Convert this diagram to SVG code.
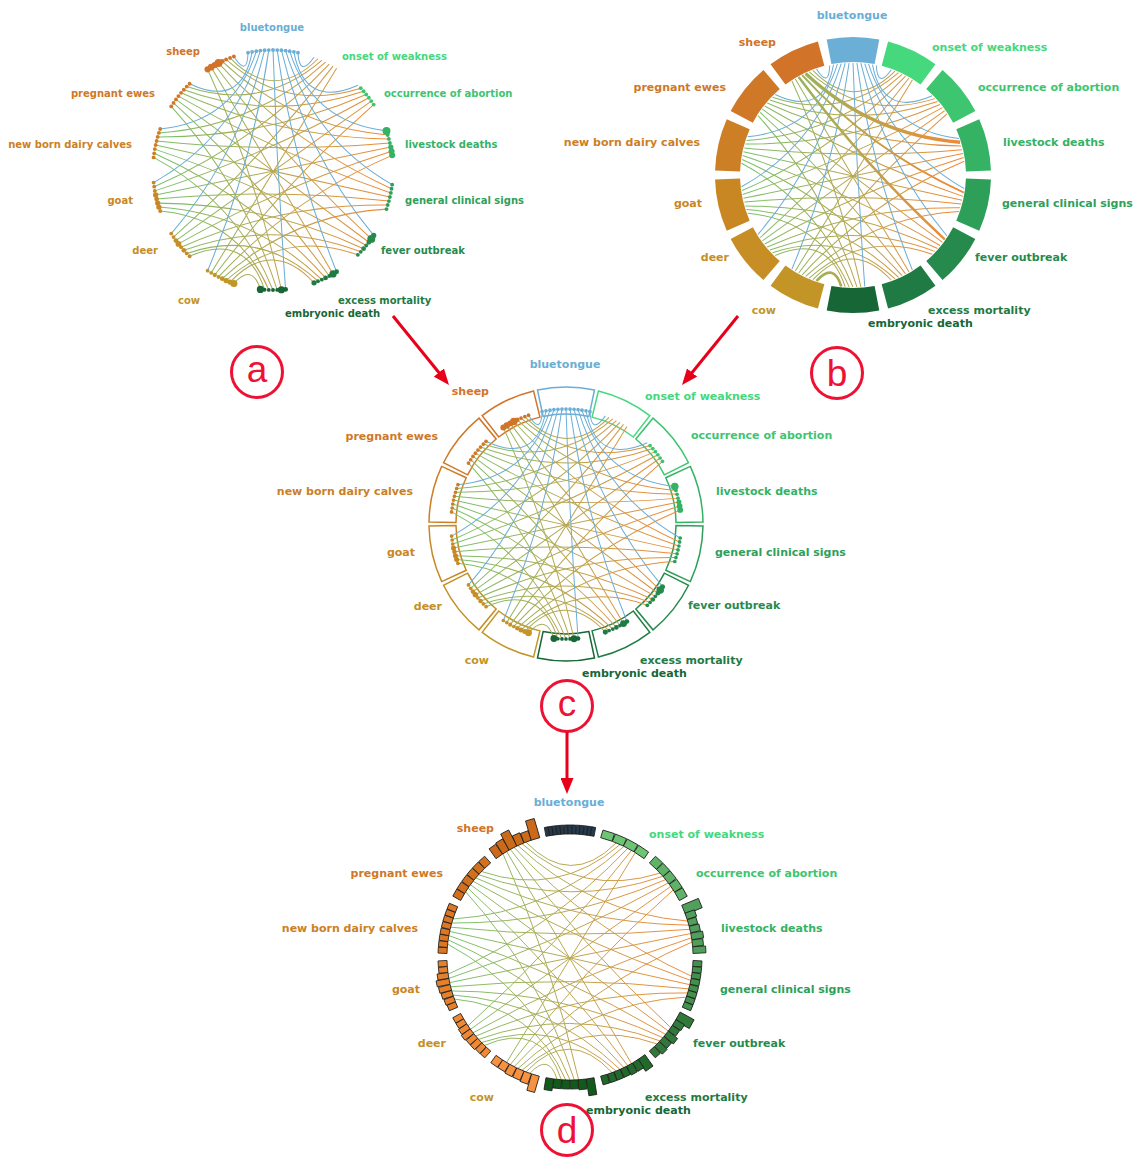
<svg xmlns="http://www.w3.org/2000/svg" xmlns:xlink="http://www.w3.org/1999/xlink" width="1140" height="1158" viewBox="0 0 1140 1158">
<style>
text{font-family:"DejaVu Sans","Liberation Sans",sans-serif;font-weight:bold}
.a text{font-size:10px}
.b text,.c text,.d text{font-size:11px}
.e{text-anchor:end}
.m{text-anchor:middle}
.bar rect{stroke:#1b1b1b;stroke-width:0.8}
.lt{font-family:"Liberation Sans",sans-serif;font-weight:normal;font-size:37px;fill:#ee1133;text-anchor:middle}
.rc{fill:none;stroke:#ee1133;stroke-width:3}
.arr{stroke:#e8001a;stroke-width:3;fill:none;marker-end:url(#ah)}
.cblue{fill:#6aaed6}.csheep{fill:#d2732a}.cpreg{fill:#cf7827}.cnb{fill:#cc7f25}.cgoat{fill:#c98723}.cdeer{fill:#c68e24}.ccow{fill:#c39527}
.conset{fill:#45d87c}.cab{fill:#3dc56f}.clive{fill:#35b264}.cgen{fill:#2e9f59}.cfev{fill:#278a4d}.cexc{fill:#1f7a44}.cemb{fill:#176636}
</style>
<defs>
<linearGradient id="g" gradientUnits="userSpaceOnUse" x1="-100" y1="0" x2="100" y2="0">
<stop offset="0" stop-color="#74c36c"/><stop offset="0.5" stop-color="#b8a64f"/><stop offset="1" stop-color="#f28836"/>
</linearGradient>
<marker id="ah" viewBox="0 0 16 13" refX="6" refY="6.5" markerWidth="16" markerHeight="13" markerUnits="userSpaceOnUse" orient="auto"><path d="M0 0L16 6.5L0 13Z" fill="#e8001a"/></marker>
<path id="arcB" d="M-26.3 -135.5A138 138 0 0 1 26.3 -135.5L21.6 -110.9A113 113 0 0 0 -21.6 -110.9Z"/>
<path id="boxC" d="M-28.5 -134A137 137 0 0 1 28.5 -134L22.9 -107.6A110 110 0 0 0 -22.9 -107.6Z"/>
<g id="chords" fill="none" stroke="url(#g)">
<path d="M-51.5 85.7Q0.5 0.3 53 -84.8"/><path d="M-48.5 87.5Q10.6 9.9 83.9 -54.5"/><path d="M-45.4 89.1Q16.2 23.1 99.3 -12.2"/><path d="M-42.3 90.6Q15.7 37 94.6 32.6"/><path d="M-39.1 92.1Q9.5 48.8 70.7 70.7"/><path d="M-35.8 93.4Q-0.5 56.2 34.2 94"/><path d="M-32.6 94.6Q-17.2 77.6 -10.5 99.5"/>
<path d="M-82.9 55.9Q-9.9 -9.2 50 -86.6"/><path d="M-80.9 58.8Q0.3 0.4 81.9 -57.4"/><path d="M-78.8 61.6Q6 13.8 98.8 -15.6"/><path d="M-76.6 64.3Q5.7 28.1 95.6 29.2"/><path d="M-74.3 66.9Q-0.4 40.5 73.1 68.2"/><path d="M-71.9 69.5Q-10.3 48.7 37.5 92.7"/><path d="M-69.5 71.9Q-23 51.5 -7 99.8"/>
<path d="M-99 13.9Q-15.6 -22.3 46.9 -88.3"/><path d="M-98.5 17.4Q-5.6 -12.8 79.9 -60.2"/><path d="M-97.8 20.8Q0.1 0.5 98.2 -19.1"/><path d="M-97 24.2Q-0.1 15 96.6 25.9"/><path d="M-96.1 27.6Q-6.2 28 75.5 65.6"/><path d="M-95.1 30.9Q-16.3 36.7 40.7 91.4"/><path d="M-94 34.2Q-29.3 40.2 -3.5 99.9"/>
<path d="M-95.1 -30.9Q-15.4 -36.2 43.8 -89.9"/><path d="M-96.1 -27.6Q-5.5 -27.2 77.7 -62.9"/><path d="M-97 -24.2Q0.1 -14 97.4 -22.5"/><path d="M-97.8 -20.8Q-0.1 0.5 97.4 22.5"/><path d="M-98.5 -17.4Q-6.2 13.7 77.7 62.9"/><path d="M-99 -13.9Q-16.6 22.8 43.8 89.9"/><path d="M-99.5 -10.5Q-29.9 26.9 0 100"/>
<path d="M-71.9 -69.5Q-9.4 -48.3 40.7 -91.4"/><path d="M-74.3 -66.9Q0.4 -39.8 75.5 -65.6"/><path d="M-76.6 -64.3Q6 -27.1 96.6 -25.9"/><path d="M-78.8 -61.6Q5.8 -12.8 98.2 19.1"/><path d="M-80.9 -58.8Q-0.3 0.4 79.9 60.2"/><path d="M-82.9 -55.9Q-10.8 9.7 46.9 88.3"/><path d="M-84.8 -53Q-24.4 14.1 3.5 99.9"/>
<path d="M-35.8 -93.4Q0.5 -55.8 37.5 -92.7"/><path d="M-39.1 -92.1Q10.2 -48.1 73.1 -68.2"/><path d="M-42.3 -90.6Q16 -35.9 95.6 -29.2"/><path d="M-45.4 -89.1Q16 -22.1 98.8 15.6"/><path d="M-48.5 -87.5Q10 -9 81.9 57.4"/><path d="M-51.5 -85.7Q-0.5 0.3 50 86.6"/><path d="M-54.5 -83.9Q-14.3 4.8 7 99.8"/>
</g>
<g id="blue" fill="none" stroke="#6baed6">
<path d="M20.8 -97.8Q22 -76.7 34.2 -94"/><path d="M17.4 -98.5Q26.4 -50.8 70.7 -70.7"/><path d="M13.9 -99Q32.6 -39.5 94.6 -32.6"/><path d="M10.5 -99.5Q32.9 -26.2 99.3 12.2"/><path d="M7 -99.8Q27.3 -13.6 83.9 54.5"/><path d="M3.5 -99.9Q17 -4.5 53 84.8"/><path d="M0 -100Q3.2 -0.2 10.5 99.5"/>
<path d="M-3.5 -99.9Q-17.4 -4.8 -54.5 83.9"/><path d="M-7 -99.8Q-27.5 -14 -84.8 53"/><path d="M-10.5 -99.5Q-33 -26.7 -99.5 10.5"/><path d="M-13.9 -99Q-32.4 -40 -94 -34.2"/><path d="M-17.4 -98.5Q-26.1 -51.1 -69.5 -71.9"/><path d="M-20.8 -97.8Q-21.4 -77 -32.6 -94.6"/>
</g>
<g id="dots">
<g fill="#6baed6"><circle cx="20.8" cy="-97.8" r="1.6"/><circle cx="17.4" cy="-98.5" r="1.6"/><circle cx="13.9" cy="-99" r="1.6"/><circle cx="10.5" cy="-99.5" r="1.6"/><circle cx="7" cy="-99.8" r="1.6"/><circle cx="3.5" cy="-99.9" r="1.6"/><circle cx="0" cy="-100" r="1.6"/><circle cx="-3.5" cy="-99.9" r="1.6"/><circle cx="-7" cy="-99.8" r="1.6"/><circle cx="-10.5" cy="-99.5" r="1.6"/><circle cx="-13.9" cy="-99" r="1.6"/><circle cx="-17.4" cy="-98.5" r="1.6"/><circle cx="-20.8" cy="-97.8" r="1.6"/></g>
<g fill="#3dc56f"><circle cx="83.9" cy="-54.5" r="1.6"/><circle cx="81.9" cy="-57.4" r="1.6"/><circle cx="79.9" cy="-60.2" r="1.6"/><circle cx="77.7" cy="-62.9" r="1.6"/><circle cx="75.5" cy="-65.6" r="1.6"/><circle cx="73.1" cy="-68.2" r="1.6"/></g>
<g fill="#35b264"><circle cx="99.3" cy="-12.2" r="2.5"/><circle cx="98.8" cy="-15.6" r="2.5"/><circle cx="98.2" cy="-19.1" r="2.2"/><circle cx="97.4" cy="-22.5" r="1.6"/><circle cx="96.6" cy="-25.9" r="1.6"/><circle cx="95.6" cy="-29.2" r="1.6"/><circle cx="94.6" cy="-32.6" r="3.3"/></g>
<g fill="#2e9f59"><circle cx="99.3" cy="12.2" r="1.6"/><circle cx="98.8" cy="15.6" r="1.6"/><circle cx="98.2" cy="19.1" r="1.6"/><circle cx="97.4" cy="22.5" r="1.6"/><circle cx="96.6" cy="25.9" r="1.6"/><circle cx="95.6" cy="29.2" r="1.6"/><circle cx="94.6" cy="32.6" r="1.6"/></g>
<g fill="#278a4d"><circle cx="83.9" cy="54.5" r="2.2"/><circle cx="81.9" cy="57.4" r="3.3"/><circle cx="79.9" cy="60.2" r="2"/><circle cx="77.7" cy="62.9" r="1.6"/><circle cx="75.5" cy="65.6" r="2"/><circle cx="73.1" cy="68.2" r="1.6"/><circle cx="70.7" cy="70.7" r="1.6"/></g>
<g fill="#1f7a44"><circle cx="53" cy="84.8" r="2"/><circle cx="50" cy="86.6" r="3"/><circle cx="46.9" cy="88.3" r="1.6"/><circle cx="43.8" cy="89.9" r="2"/><circle cx="40.7" cy="91.4" r="1.6"/><circle cx="37.5" cy="92.7" r="1.6"/><circle cx="34.2" cy="94" r="2.2"/></g>
<g fill="#176636"><circle cx="10.5" cy="99.5" r="2"/><circle cx="7" cy="99.8" r="3"/><circle cx="3.5" cy="99.9" r="1.6"/><circle cx="0" cy="100" r="1.6"/><circle cx="-3.5" cy="99.9" r="1.6"/><circle cx="-7" cy="99.8" r="1.6"/><circle cx="-10.5" cy="99.5" r="3"/></g>
<g fill="#c39527"><circle cx="-32.6" cy="94.6" r="3"/><circle cx="-35.8" cy="93.4" r="2.2"/><circle cx="-39.1" cy="92.1" r="2.2"/><circle cx="-42.3" cy="90.6" r="2"/><circle cx="-45.4" cy="89.1" r="1.6"/><circle cx="-48.5" cy="87.5" r="1.8"/><circle cx="-51.5" cy="85.7" r="1.6"/><circle cx="-54.5" cy="83.9" r="1.6"/></g>
<g fill="#c68e24"><circle cx="-69.5" cy="71.9" r="1.6"/><circle cx="-71.9" cy="69.5" r="1.6"/><circle cx="-74.3" cy="66.9" r="2"/><circle cx="-76.6" cy="64.3" r="1.6"/><circle cx="-78.8" cy="61.6" r="2.4"/><circle cx="-80.9" cy="58.8" r="2"/><circle cx="-82.9" cy="55.9" r="1.6"/><circle cx="-84.8" cy="53" r="1.6"/></g>
<g fill="#c98723"><circle cx="-94" cy="34.2" r="1.6"/><circle cx="-95.1" cy="30.9" r="2.2"/><circle cx="-96.1" cy="27.6" r="2.2"/><circle cx="-97" cy="24.2" r="2"/><circle cx="-97.8" cy="20.8" r="2.2"/><circle cx="-98.5" cy="17.4" r="1.6"/><circle cx="-99" cy="13.9" r="1.6"/><circle cx="-99.5" cy="10.5" r="1.6"/></g>
<g fill="#cc7f25"><circle cx="-99.5" cy="-10.5" r="1.6"/><circle cx="-99" cy="-13.9" r="1.6"/><circle cx="-98.5" cy="-17.4" r="1.6"/><circle cx="-97.8" cy="-20.8" r="1.6"/><circle cx="-97" cy="-24.2" r="1.6"/><circle cx="-96.1" cy="-27.6" r="1.6"/><circle cx="-95.1" cy="-30.9" r="1.6"/><circle cx="-94" cy="-34.2" r="1.6"/></g>
<g fill="#cf7827"><circle cx="-84.8" cy="-53" r="1.6"/><circle cx="-82.9" cy="-55.9" r="1.6"/><circle cx="-80.9" cy="-58.8" r="1.6"/><circle cx="-78.8" cy="-61.6" r="1.6"/><circle cx="-76.6" cy="-64.3" r="1.6"/><circle cx="-74.3" cy="-66.9" r="1.6"/><circle cx="-71.9" cy="-69.5" r="1.6"/><circle cx="-69.5" cy="-71.9" r="1.6"/></g>
<g fill="#d2732a"><circle cx="-54.5" cy="-83.9" r="2.6"/><circle cx="-51.5" cy="-85.7" r="2.8"/><circle cx="-48.5" cy="-87.5" r="2.6"/><circle cx="-45.4" cy="-89.1" r="3.3"/><circle cx="-42.3" cy="-90.6" r="2"/><circle cx="-39.1" cy="-92.1" r="1.6"/><circle cx="-35.8" cy="-93.4" r="1.6"/><circle cx="-32.6" cy="-94.6" r="1.6"/></g>
</g>
</defs>
<rect width="1140" height="1158" fill="#ffffff"/>

<!-- Diagram a -->
<g id="diagram-a" class="a">
<g id="a-connectors" transform="translate(273 170) scale(1.2)" stroke-width="0.85">
<use href="#chords"/>
<use href="#blue"/>
</g>
<g id="a-endpoints" transform="translate(273 170) scale(1.2)"><use href="#dots"/></g>
<g id="a-bluetongue"><text class="m cblue" x="272" y="31">bluetongue</text></g>
<g id="a-sheep"><text class="e csheep" x="200" y="55">sheep</text></g>
<g id="a-onset"><text class="conset" x="342" y="60">onset of weakness</text></g>
<g id="a-pregnant"><text class="e cpreg" x="155" y="97">pregnant ewes</text></g>
<g id="a-abortion"><text class="cab" x="384" y="97">occurrence of abortion</text></g>
<g id="a-newborn"><text class="e cnb" x="132" y="148">new born dairy calves</text></g>
<g id="a-livestock"><text class="clive" x="405" y="148">livestock deaths</text></g>
<g id="a-goat"><text class="e cgoat" x="133" y="204">goat</text></g>
<g id="a-general"><text class="cgen" x="405" y="204">general clinical signs</text></g>
<g id="a-deer"><text class="e cdeer" x="158" y="254">deer</text></g>
<g id="a-fever"><text class="cfev" x="381" y="254">fever outbreak</text></g>
<g id="a-cow"><text class="e ccow" x="200" y="304">cow</text></g>
<g id="a-excess"><text class="cexc" x="338" y="304">excess mortality</text></g>
<g id="a-embryonic"><text class="cemb" x="285" y="317">embryonic death</text></g>
</g>

<!-- Diagram b -->
<g id="diagram-b" class="b">
<g id="b-arcs" transform="translate(853 175)">
<use href="#arcB" fill="#6baed6"/>
<use href="#arcB" transform="rotate(25.714)" fill="#45d87c"/>
<use href="#arcB" transform="rotate(51.429)" fill="#3dc56f"/>
<use href="#arcB" transform="rotate(77.143)" fill="#35b264"/>
<use href="#arcB" transform="rotate(102.857)" fill="#2e9f59"/>
<use href="#arcB" transform="rotate(128.571)" fill="#278a4d"/>
<use href="#arcB" transform="rotate(154.286)" fill="#1f7a44"/>
<use href="#arcB" transform="rotate(180)" fill="#176636"/>
<use href="#arcB" transform="rotate(205.714)" fill="#c39527"/>
<use href="#arcB" transform="rotate(231.429)" fill="#c68e24"/>
<use href="#arcB" transform="rotate(257.143)" fill="#c98723"/>
<use href="#arcB" transform="rotate(282.857)" fill="#cc7f25"/>
<use href="#arcB" transform="rotate(308.571)" fill="#cf7827"/>
<use href="#arcB" transform="rotate(334.286)" fill="#d2732a"/>
</g>
<g id="b-connectors" transform="translate(853 175) scale(1.12)" stroke-width="0.9">
<use href="#chords"/>
<use href="#blue"/>
<g fill="none" stroke="url(#g)">
<path d="M-42.3 -90.6Q16 -35.9 95.6 -29.2" stroke-width="3"/>
<path d="M-48.5 -87.5Q10 -9 81.9 57.4" stroke-width="2.2"/>
<path d="M-45.4 -89.1Q16 -22.1 98.8 15.6" stroke-width="1.6"/>
<path d="M-32.6 94.6Q-17.2 77.6 -10.5 99.5" stroke-width="2.4"/>
</g>
</g>
<g id="b-bluetongue"><text class="m cblue" x="852" y="19">bluetongue</text></g>
<g id="b-sheep"><text class="e csheep" x="776" y="46">sheep</text></g>
<g id="b-onset"><text class="conset" x="932" y="51">onset of weakness</text></g>
<g id="b-pregnant"><text class="e cpreg" x="726" y="91">pregnant ewes</text></g>
<g id="b-abortion"><text class="cab" x="978" y="91">occurrence of abortion</text></g>
<g id="b-newborn"><text class="e cnb" x="700" y="146">new born dairy calves</text></g>
<g id="b-livestock"><text class="clive" x="1003" y="146">livestock deaths</text></g>
<g id="b-goat"><text class="e cgoat" x="702" y="207">goat</text></g>
<g id="b-general"><text class="cgen" x="1002" y="207">general clinical signs</text></g>
<g id="b-deer"><text class="e cdeer" x="729" y="261">deer</text></g>
<g id="b-fever"><text class="cfev" x="975" y="261">fever outbreak</text></g>
<g id="b-cow"><text class="e ccow" x="776" y="314">cow</text></g>
<g id="b-excess"><text class="cexc" x="928" y="314">excess mortality</text></g>
<g id="b-embryonic"><text class="cemb" x="868" y="327">embryonic death</text></g>
</g>

<!-- Diagram c -->
<g id="diagram-c" class="c">
<g id="c-boxes" transform="translate(566 524)" fill="none" stroke-width="1.5">
<use href="#boxC" stroke="#6baed6"/>
<use href="#boxC" transform="rotate(25.714)" stroke="#45d87c"/>
<use href="#boxC" transform="rotate(51.429)" stroke="#3dc56f"/>
<use href="#boxC" transform="rotate(77.143)" stroke="#35b264"/>
<use href="#boxC" transform="rotate(102.857)" stroke="#2e9f59"/>
<use href="#boxC" transform="rotate(128.571)" stroke="#278a4d"/>
<use href="#boxC" transform="rotate(154.286)" stroke="#1f7a44"/>
<use href="#boxC" transform="rotate(180)" stroke="#176636"/>
<use href="#boxC" transform="rotate(205.714)" stroke="#c39527"/>
<use href="#boxC" transform="rotate(231.429)" stroke="#c68e24"/>
<use href="#boxC" transform="rotate(257.143)" stroke="#c98723"/>
<use href="#boxC" transform="rotate(282.857)" stroke="#cc7f25"/>
<use href="#boxC" transform="rotate(308.571)" stroke="#cf7827"/>
<use href="#boxC" transform="rotate(334.286)" stroke="#d2732a"/>
</g>
<g id="c-connectors" transform="translate(566 524) scale(1.15)" stroke-width="0.87">
<use href="#chords"/>
<use href="#blue"/>
</g>
<g id="c-endpoints" transform="translate(566 524) scale(1.15)"><use href="#dots"/></g>
<g id="c-bluetongue"><text class="m cblue" x="565" y="368">bluetongue</text></g>
<g id="c-sheep"><text class="e csheep" x="489" y="395">sheep</text></g>
<g id="c-onset"><text class="conset" x="645" y="400">onset of weakness</text></g>
<g id="c-pregnant"><text class="e cpreg" x="438" y="440">pregnant ewes</text></g>
<g id="c-abortion"><text class="cab" x="691" y="439">occurrence of abortion</text></g>
<g id="c-newborn"><text class="e cnb" x="413" y="495">new born dairy calves</text></g>
<g id="c-livestock"><text class="clive" x="716" y="495">livestock deaths</text></g>
<g id="c-goat"><text class="e cgoat" x="415" y="556">goat</text></g>
<g id="c-general"><text class="cgen" x="715" y="556">general clinical signs</text></g>
<g id="c-deer"><text class="e cdeer" x="442" y="610">deer</text></g>
<g id="c-fever"><text class="cfev" x="688" y="609">fever outbreak</text></g>
<g id="c-cow"><text class="e ccow" x="489" y="664">cow</text></g>
<g id="c-excess"><text class="cexc" x="640" y="664">excess mortality</text></g>
<g id="c-embryonic"><text class="cemb" x="582" y="677">embryonic death</text></g>
</g>

<!-- Diagram d -->
<g id="diagram-d" class="d">
<g id="d-connectors" transform="translate(570 957) scale(1.23)" stroke-width="0.8">
<use href="#chords"/>
</g>
<g id="d-bluetongue"><g class="bar" fill="#263a4e" transform="translate(570 957)">
<rect transform="rotate(-10.4)" x="-1.85" y="-132" width="3.7" height="9"/><rect transform="rotate(-8.7)" x="-1.85" y="-132" width="3.7" height="9"/><rect transform="rotate(-7)" x="-1.85" y="-132" width="3.7" height="9"/><rect transform="rotate(-5.2)" x="-1.85" y="-132" width="3.7" height="9"/><rect transform="rotate(-3.5)" x="-1.85" y="-132" width="3.7" height="9"/><rect transform="rotate(-1.7)" x="-1.85" y="-132" width="3.7" height="9"/><rect x="-1.85" y="-132" width="3.7" height="9"/><rect transform="rotate(1.7)" x="-1.85" y="-132" width="3.7" height="9"/><rect transform="rotate(3.5)" x="-1.85" y="-132" width="3.7" height="9"/><rect transform="rotate(5.2)" x="-1.85" y="-132" width="3.7" height="9"/><rect transform="rotate(7)" x="-1.85" y="-132" width="3.7" height="9"/><rect transform="rotate(8.7)" x="-1.85" y="-132" width="3.7" height="9"/><rect transform="rotate(10.4)" x="-1.85" y="-132" width="3.7" height="9"/>
</g><text class="m cblue" x="569" y="806">bluetongue</text></g>
<g id="d-onset"><g class="bar" fill="#6dc473" transform="translate(570 957)">
<rect transform="rotate(17.2)" x="-6" y="-131" width="12" height="8"/><rect transform="rotate(22.9)" x="-6" y="-131" width="12" height="8"/><rect transform="rotate(28.5)" x="-6" y="-131" width="12" height="8"/><rect transform="rotate(34.2)" x="-6" y="-131" width="12" height="8"/>
</g><text class="conset" x="649" y="838">onset of weakness</text></g>
<g id="d-abortion"><g class="bar" fill="#5fb267" transform="translate(570 957)">
<rect transform="rotate(42.4)" x="-4.8" y="-132" width="9.6" height="9"/><rect transform="rotate(46.9)" x="-4.8" y="-132" width="9.6" height="9"/><rect transform="rotate(51.4)" x="-4.8" y="-132" width="9.6" height="9"/><rect transform="rotate(56)" x="-4.8" y="-132" width="9.6" height="9"/><rect transform="rotate(60.5)" x="-4.8" y="-132" width="9.6" height="9"/>
</g><text class="cab" x="696" y="877">occurrence of abortion</text></g>
<g id="d-livestock"><g class="bar" fill="#509f5b" transform="translate(570 957)">
<rect transform="rotate(67.5)" x="-5" y="-141" width="10" height="18"/><rect transform="rotate(70.7)" x="-3.4" y="-133" width="6.8" height="10"/><rect transform="rotate(73.9)" x="-3.4" y="-132" width="6.8" height="9"/><rect transform="rotate(77.1)" x="-3.4" y="-133" width="6.8" height="10"/><rect transform="rotate(80.4)" x="-3.4" y="-135" width="6.8" height="12"/><rect transform="rotate(83.6)" x="-3.4" y="-134" width="6.8" height="11"/><rect transform="rotate(86.8)" x="-3.4" y="-136" width="6.8" height="13"/>
</g><text class="clive" x="721" y="932">livestock deaths</text></g>
<g id="d-general"><g class="bar" fill="#41904c" transform="translate(570 957)">
<rect transform="rotate(93)" x="-3" y="-132" width="6" height="9"/><rect transform="rotate(95.8)" x="-3" y="-132" width="6" height="9"/><rect transform="rotate(98.6)" x="-3" y="-132" width="6" height="9"/><rect transform="rotate(101.4)" x="-3" y="-132" width="6" height="9"/><rect transform="rotate(104.3)" x="-3" y="-132" width="6" height="9"/><rect transform="rotate(107.1)" x="-3" y="-132" width="6" height="9"/><rect transform="rotate(109.9)" x="-3" y="-132" width="6" height="9"/><rect transform="rotate(112.7)" x="-3" y="-132" width="6" height="9"/>
</g><text class="cgen" x="720" y="993">general clinical signs</text></g>
<g id="d-fever"><g class="bar" fill="#30793a" transform="translate(570 957)">
<rect transform="rotate(118.9)" x="-5" y="-139" width="10" height="16"/><rect transform="rotate(122.1)" x="-3.4" y="-133" width="6.8" height="10"/><rect transform="rotate(125.3)" x="-3.4" y="-132" width="6.8" height="9"/><rect transform="rotate(128.6)" x="-3.4" y="-135" width="6.8" height="12"/><rect transform="rotate(131.8)" x="-3.4" y="-133" width="6.8" height="10"/><rect transform="rotate(135)" x="-3.4" y="-134" width="6.8" height="11"/><rect transform="rotate(138.3)" x="-3.4" y="-132" width="6.8" height="9"/>
</g><text class="cfev" x="693" y="1047">fever outbreak</text></g>
<g id="d-excess"><g class="bar" fill="#226a2c" transform="translate(570 957)">
<rect transform="rotate(144.6)" x="-4.5" y="-137" width="9" height="14"/><rect transform="rotate(147.8)" x="-3.4" y="-133" width="6.8" height="10"/><rect transform="rotate(151.1)" x="-3.4" y="-133" width="6.8" height="10"/><rect transform="rotate(154.3)" x="-3.4" y="-132" width="6.8" height="9"/><rect transform="rotate(157.5)" x="-3.4" y="-132" width="6.8" height="9"/><rect transform="rotate(160.7)" x="-3.4" y="-132" width="6.8" height="9"/><rect transform="rotate(164)" x="-3.4" y="-132" width="6.8" height="9"/>
</g><text class="cexc" x="645" y="1101">excess mortality</text></g>
<g id="d-embryonic"><g class="bar" fill="#125a1a" transform="translate(570 957)">
<rect transform="rotate(170.6)" x="-4" y="-140" width="8" height="17"/><rect transform="rotate(174.4)" x="-4" y="-133" width="8" height="10"/><rect transform="rotate(178.1)" x="-4" y="-132" width="8" height="9"/><rect transform="rotate(181.9)" x="-4" y="-132" width="8" height="9"/><rect transform="rotate(185.7)" x="-4" y="-132" width="8" height="9"/><rect transform="rotate(189.4)" x="-4" y="-135" width="8" height="12"/>
</g><text class="cemb" x="586" y="1114">embryonic death</text></g>
<g id="d-cow"><g class="bar" fill="#f9923f" transform="translate(570 957)">
<rect transform="rotate(196.3)" x="-4" y="-140" width="8" height="17"/><rect transform="rotate(200.1)" x="-4" y="-134" width="8" height="11"/><rect transform="rotate(203.8)" x="-4" y="-133" width="8" height="10"/><rect transform="rotate(207.6)" x="-4" y="-133" width="8" height="10"/><rect transform="rotate(211.4)" x="-4" y="-132" width="8" height="9"/><rect transform="rotate(215.1)" x="-4" y="-132" width="8" height="9"/>
</g><text class="e ccow" x="494" y="1101">cow</text></g>
<g id="d-deer"><g class="bar" fill="#f08934" transform="translate(570 957)">
<rect transform="rotate(221.5)" x="-3" y="-132" width="6" height="9"/><rect transform="rotate(224.4)" x="-3" y="-132" width="6" height="9"/><rect transform="rotate(227.2)" x="-3" y="-133" width="6" height="10"/><rect transform="rotate(230)" x="-3" y="-133" width="6" height="10"/><rect transform="rotate(232.9)" x="-3" y="-134" width="6" height="11"/><rect transform="rotate(235.7)" x="-3" y="-133" width="6" height="10"/><rect transform="rotate(238.5)" x="-3" y="-132" width="6" height="9"/><rect transform="rotate(241.3)" x="-3" y="-132" width="6" height="9"/>
</g><text class="e cdeer" x="446" y="1047">deer</text></g>
<g id="d-goat"><g class="bar" fill="#e5802b" transform="translate(570 957)">
<rect transform="rotate(247.3)" x="-3" y="-132" width="6" height="9"/><rect transform="rotate(250)" x="-3" y="-133" width="6" height="10"/><rect transform="rotate(252.9)" x="-3" y="-134" width="6" height="11"/><rect transform="rotate(255.7)" x="-3" y="-135" width="6" height="12"/><rect transform="rotate(258.6)" x="-3" y="-136" width="6" height="13"/><rect transform="rotate(261.4)" x="-3" y="-134" width="6" height="11"/><rect transform="rotate(264.2)" x="-3" y="-132" width="6" height="9"/><rect transform="rotate(267)" x="-3" y="-132" width="6" height="9"/>
</g><text class="e cgoat" x="420" y="993">goat</text></g>
<g id="d-newborn"><g class="bar" fill="#dc7824" transform="translate(570 957)">
<rect transform="rotate(273)" x="-3" y="-132" width="6" height="9"/><rect transform="rotate(275.8)" x="-3" y="-132" width="6" height="9"/><rect transform="rotate(278.6)" x="-3" y="-132" width="6" height="9"/><rect transform="rotate(281.4)" x="-3" y="-132" width="6" height="9"/><rect transform="rotate(284.3)" x="-3" y="-132" width="6" height="9"/><rect transform="rotate(287.1)" x="-3" y="-132" width="6" height="9"/><rect transform="rotate(289.9)" x="-3" y="-132" width="6" height="9"/><rect transform="rotate(292.7)" x="-3" y="-132" width="6" height="9"/>
</g><text class="e cnb" x="418" y="932">new born dairy calves</text></g>
<g id="d-pregnant"><g class="bar" fill="#d3701e" transform="translate(570 957)">
<rect transform="rotate(299.2)" x="-4" y="-132" width="8" height="9"/><rect transform="rotate(302.9)" x="-4" y="-132" width="8" height="9"/><rect transform="rotate(306.7)" x="-4" y="-132" width="8" height="9"/><rect transform="rotate(310.5)" x="-4" y="-132" width="8" height="9"/><rect transform="rotate(314.2)" x="-4" y="-132" width="8" height="9"/><rect transform="rotate(318)" x="-4" y="-132" width="8" height="9"/>
</g><text class="e cpreg" x="443" y="877">pregnant ewes</text></g>
<g id="d-sheep"><g class="bar" fill="#cb6a18" transform="translate(570 957)">
<rect transform="rotate(324.9)" x="-4" y="-135" width="8" height="12"/><rect transform="rotate(328.6)" x="-4" y="-136" width="8" height="13"/><rect transform="rotate(332.4)" x="-4.5" y="-141" width="9" height="18"/><rect transform="rotate(336.2)" x="-4" y="-134" width="8" height="11"/><rect transform="rotate(339.9)" x="-4" y="-133" width="8" height="10"/><rect transform="rotate(343.7)" x="-4.5" y="-143" width="9" height="20"/>
</g><text class="e csheep" x="494" y="832">sheep</text></g>
</g>

<!-- Panel markers and arrows -->
<g id="label-a"><circle class="rc" cx="257" cy="372" r="25.5"/><text class="lt" x="257" y="382">a</text></g>
<g id="label-b"><circle class="rc" cx="837" cy="373" r="25.5"/><text class="lt" x="837" y="386">b</text></g>
<g id="label-c"><circle class="rc" cx="567" cy="706" r="25.5"/><text class="lt" x="567" y="716">c</text></g>
<g id="label-d"><circle class="rc" cx="567" cy="1130" r="25.5"/><text class="lt" x="567" y="1143">d</text></g>
<g id="arrows">
<line class="arr" x1="393" y1="316" x2="442.7" y2="377.2"/>
<line class="arr" x1="738" y1="316" x2="688.3" y2="377.2"/>
<line class="arr" x1="567" y1="732" x2="567" y2="784"/>
</g>
</svg>
